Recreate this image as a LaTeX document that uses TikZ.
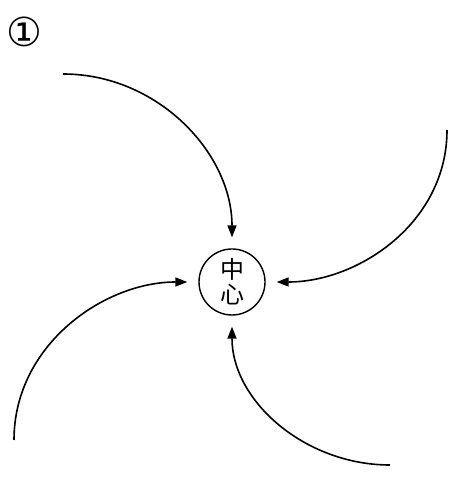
\documentclass[tikz,border=0pt]{standalone}
\usepackage{fontspec}
\newfontfamily\cjk{Noto Sans CJK SC}
\newfontfamily\dejavu{DejaVu Sans}
\usetikzlibrary{arrows.meta}
\begin{document}
\begin{tikzpicture}[x=1pt,y=1pt,
  flow/.style={line width=1.6pt,-{Triangle[length=12pt,width=9pt]},shorten >=11pt},
  centre/.style={circle,draw,line width=1.4pt,minimum size=66pt,inner sep=0pt,align=center,font=\cjk\fontsize{24}{25}\selectfont}]
\useasboundingbox (0,0) rectangle (450,490);
\node (lbl) at (24,458) {\dejavu\fontsize{40}{42}\selectfont ①};
\node[centre] (c) at (232,208) {中\\心};
\coordinate (s1) at (63,416);
\coordinate (s2) at (447,360);
\coordinate (s3) at (14,50);
\coordinate (s4) at (390,25);
\draw[flow] (s1) to[out=0,in=90] (c.north);
\draw[flow] (s2) to[out=-90,in=0] (c.east);
\draw[flow] (s3) to[out=90,in=180] (c.west);
\draw[flow] (s4) to[out=180,in=-90] (c.south);
\end{tikzpicture}
\end{document}
